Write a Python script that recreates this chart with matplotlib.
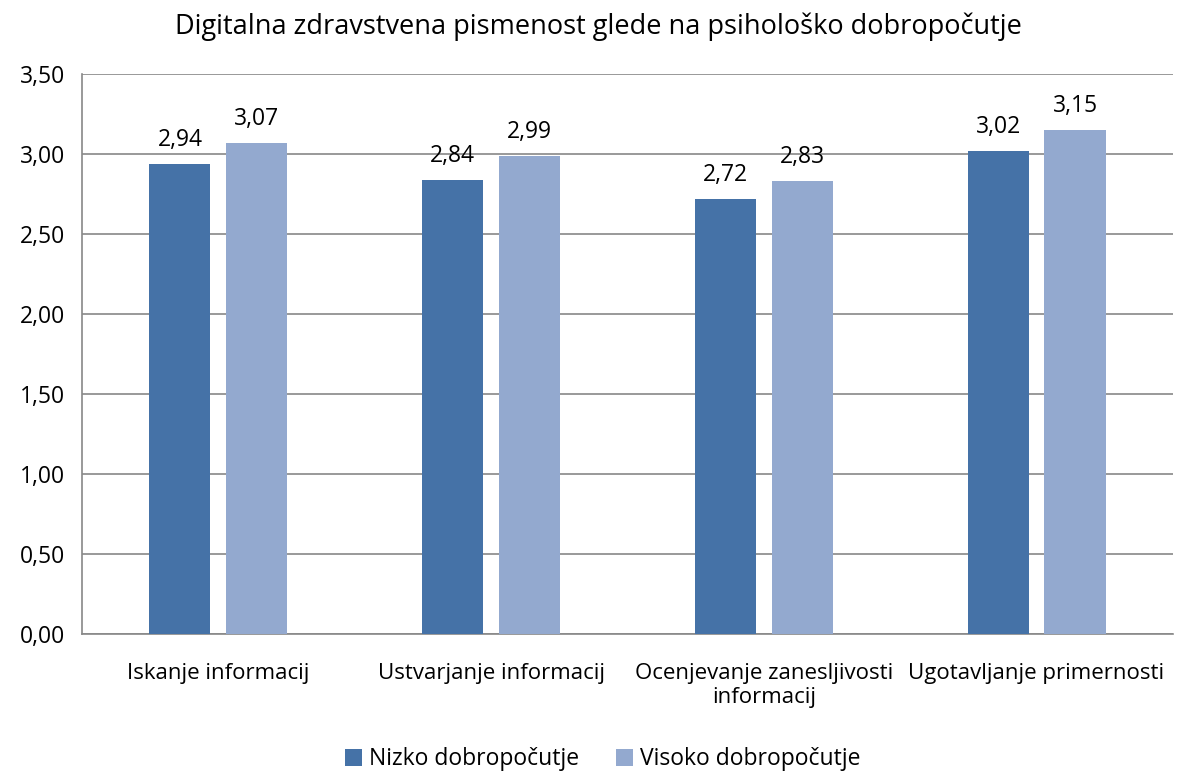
import numpy as np
import matplotlib
matplotlib.use("Agg")
import matplotlib.pyplot as plt

plt.rcParams['font.family'] = ['Open Sans', 'DejaVu Sans']

categories = ["Iskanje informacij", "Ustvarjanje informacij",
              "Ocenjevanje zanesljivosti\ninformacij", "Ugotavljanje primernosti"]
nizko = [2.94, 2.84, 2.72, 3.02]
visoko = [3.07, 2.99, 2.83, 3.15]
series_names = ["Nizko dobropočutje", "Visoko dobropočutje"]
yticks = [0, 0.5, 1.0, 1.5, 2.0, 2.5, 3.0, 3.5]

fig = plt.figure(figsize=(11.8, 7.71), dpi=100)
ax = fig.add_axes([0.0695, 0.1777, 0.9245, 0.7263])

x = np.arange(len(categories))
w = 0.224
off = 0.141
b1 = ax.bar(x - off, nizko, w, color="#4572A7", label=series_names[0], zorder=3)
b2 = ax.bar(x + off, visoko, w, color="#93A9CF", label=series_names[1], zorder=3)

for bars, vals in [(b1, nizko), (b2, visoko)]:
    for b, v in zip(bars, vals):
        ax.text(b.get_x() + b.get_width() / 2, v + 0.075, f"{v:.2f}".replace(".", ","),
                ha="center", va="bottom", fontsize=16.5)

ax.set_xlim(-0.5, len(categories) - 0.5)
ax.set_ylim(0, 3.5)
ax.set_yticks(yticks)
ax.set_yticklabels([f"{t:.2f}".replace(".", ",") for t in yticks], fontsize=16.5)
ax.set_xticks(x)
ax.set_xticklabels(categories, fontsize=16, linespacing=1.2)
ax.tick_params(axis="y", length=0, pad=12)
ax.tick_params(axis="x", length=0, pad=21)

ax.yaxis.grid(True, color="#888888", linewidth=1.2, zorder=0)
for s in ["top", "right"]:
    ax.spines[s].set_visible(False)
ax.spines["left"].set_color("#888888")
ax.spines["bottom"].set_color("#888888")
ax.spines["left"].set_linewidth(1.2)
ax.spines["bottom"].set_linewidth(1.2)

fig.suptitle("Digitalna zdravstvena pismenost glede na psihološko dobropočutje",
             fontsize=19.5, x=0.507, y=0.984)

fig.legend(handles=[b1, b2], labels=series_names, loc="lower center", ncol=2,
           frameon=False, fontsize=16.5, bbox_to_anchor=(0.511, -0.027),
           handlelength=0.75, handleheight=0.75, handletextpad=0.3, columnspacing=1.6)

fig.savefig("out.png", dpi=100)
